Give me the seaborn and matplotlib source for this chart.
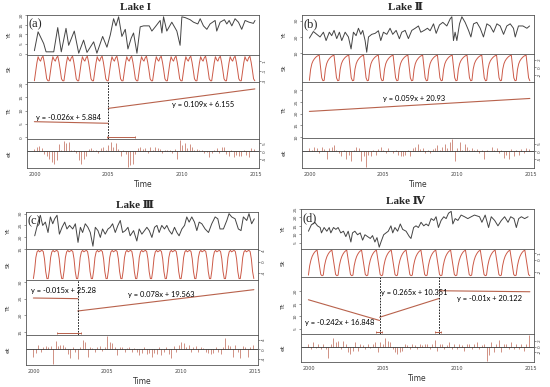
import numpy as np
import pandas as pd
import seaborn as sns
import matplotlib.pyplot as plt

sns.set_theme(style="white")
plt.rcParams['font.family'] = ['DejaVu Sans']

# ---------------- data ----------------
# Yt: observed series, x = years after 2000
yt_x_I = [0.00, 0.25, 0.63, 0.79, 1.31, 1.58, 1.82, 2.14, 2.32, 2.70, 3.00, 3.33, 3.56, 4.01, 4.23,
          4.62, 4.91, 5.14, 5.36, 5.52, 5.70, 5.92, 6.15, 6.33, 6.55, 6.71, 6.94, 7.16, 7.39, 7.77,
          7.95, 8.18, 8.51, 8.63, 8.74, 8.96, 9.30, 9.64, 9.86, 9.98, 10.20, 10.54, 10.77, 11.06,
          11.22, 11.44, 11.67, 11.89, 12.23, 12.34, 12.57, 12.86, 13.02, 13.18, 13.36, 13.58,
          13.81, 14.03, 14.26, 14.53, 14.82, 14.93]
yt_v_I = [1.5, 11.3, 5.2, 0.9, 0.9, 13.5, 0.9, 13.1, 4.3, 11.7, 0.2, 7.0, 0.6, 6.1, 0.2,
          8.9, 3.3, 9.8, 18.1, 14.4, 19.1, 8.9, 12.6, 2.4, 8.0, 10.7, 0.2, 13.9, 14.4, 14.4,
          11.7, 13.9, 17.2, 10.7, 19.1, 11.7, 16.3, 11.7, 4.3, 19.1, 18.7, 17.6, 16.3, 15.4,
          18.1, 14.4, 12.6, 15.4, 17.2, 11.7, 16.3, 17.6, 15.4, 17.2, 14.4, 18.1,
          16.3, 12.6, 17.2, 16.3, 15.7, 17.2]

yt_x_II = [0.00, 0.27, 0.50, 0.72, 0.95, 1.13, 1.35, 1.51, 1.67, 1.85, 2.03, 2.19, 2.42, 2.64, 2.82,
           2.98, 3.16, 3.32, 3.48, 3.61, 3.77, 3.88, 4.00, 4.22, 4.45, 4.67, 4.83, 5.01, 5.24, 5.46,
           5.64, 5.87, 6.09, 6.25, 6.48, 6.70, 6.93, 7.16, 7.38, 7.54, 7.77, 7.99, 8.17, 8.40, 8.58,
           8.80, 9.03, 9.30, 9.53, 9.64, 9.75, 9.86, 9.98, 10.16, 10.32, 10.54, 10.77, 10.93, 11.11,
           11.33, 11.56, 11.78, 12.01, 12.23, 12.46, 12.69, 12.91, 13.14, 13.36, 13.59, 13.81,
           13.93, 14.15, 14.45, 14.72, 14.90]
yt_v_II = [19.3, 23.3, 21.6, 20.0, 22.9, 17.8, 22.9, 20.8, 24.0, 19.0, 22.9, 17.8, 22.9, 20.0, 12.7,
           22.9, 20.8, 25.3, 21.6, 24.0, 17.8, 10.7, 20.0, 21.6, 22.2, 23.8, 17.8, 22.9, 21.6, 25.3,
           21.6, 24.0, 18.9, 22.9, 24.0, 19.0, 24.0, 25.3, 26.7, 22.9, 24.0, 25.3, 23.8, 28.0, 22.2,
           27.3, 28.9, 26.7, 31.1, 32.3, 17.8, 22.9, 17.8, 28.0, 32.3, 28.9, 24.0, 20.0, 28.0,
           28.9, 25.3, 20.0, 28.0, 26.7, 22.9, 28.0, 26.7, 21.6, 26.7, 28.0, 25.3,
           20.0, 26.7, 26.7, 25.3, 26.7]

yt_x_III = [0.09, 0.32, 0.47, 0.63, 0.81, 0.99, 1.15, 1.31, 1.44, 1.60, 1.76, 1.94, 2.12, 2.27, 2.45,
            2.66, 2.84, 3.02, 3.18, 3.33, 3.51, 3.69, 3.85, 4.03, 4.19, 4.37, 4.53, 4.68, 4.86, 5.05,
            5.20, 5.36, 5.54, 5.72, 5.88, 6.04, 6.22, 6.40, 6.55, 6.78, 7.00, 7.16, 7.34, 7.52, 7.68,
            7.84, 8.02, 8.20, 8.36, 8.51, 8.69, 8.87, 9.03, 9.19, 9.37, 9.55, 9.71, 9.86, 10.05, 10.23,
            10.38, 10.54, 10.72, 10.90, 11.06, 11.22, 11.40, 11.62, 11.85, 12.07, 12.30, 12.48, 12.63,
            12.86, 13.09, 13.24, 13.42, 13.65, 13.87, 14.05, 14.21, 14.44, 14.59, 14.77, 14.95]
yt_v_III = [20.6, 26.4, 29.3, 25.0, 26.4, 22.0, 28.6, 25.7, 27.8, 29.3, 21.3, 24.2, 26.4, 23.5, 25.0,
            23.5, 25.7, 17.8, 24.2, 22.0, 25.7, 24.2, 22.0, 16.2, 24.2, 22.8, 19.9, 23.5, 21.3, 23.5,
            24.2, 25.7, 22.0, 25.0, 27.1, 22.0, 22.8, 24.2, 20.6, 22.8, 18.4, 23.5, 21.3, 22.8, 24.2,
            22.8, 19.9, 24.2, 25.0, 22.0, 25.0, 23.5, 25.0, 22.8, 21.3, 24.2, 22.0, 20.6, 23.5, 25.0,
            28.6, 26.4, 28.6, 26.4, 22.8, 26.4, 25.7, 23.5, 22.0, 25.7, 28.6, 27.8, 23.5,
            23.5, 27.1, 30.0, 28.6, 27.8, 23.5, 22.8, 28.6, 27.1, 30.0, 25.7, 27.8]

yt_x_IV = [0.00, 0.20, 0.43, 0.61, 0.79, 0.88, 1.06, 1.24, 1.40, 1.51, 1.69, 1.85, 2.00, 2.18, 2.36,
           2.52, 2.68, 2.86, 2.97, 3.13, 3.31, 3.49, 3.65, 3.81, 3.99, 4.17, 4.32, 4.48, 4.62, 4.77,
           4.89, 5.07, 5.23, 5.38, 5.56, 5.68, 5.83, 6.01, 6.19, 6.35, 6.58, 6.80, 6.91, 7.09, 7.25,
           7.41, 7.59, 7.77, 7.93, 8.09, 8.27, 8.45, 8.60, 8.76, 8.94, 9.12, 9.28, 9.44, 9.62, 9.73,
           9.89, 10.07, 10.29, 10.52, 10.74, 10.97, 11.19, 11.53, 11.69, 11.91, 12.14, 12.32, 12.55,
           12.77, 13.00, 13.22, 13.45, 13.63, 13.85, 14.01, 14.17, 14.35, 14.57, 14.80]
yt_v_IV = [11.8, 15.6, 17.1, 15.0, 14.0, 10.8, 14.0, 11.8, 14.0, 10.8, 14.0, 12.9, 14.0, 10.8, 11.8,
           8.6, 11.8, 5.4, 10.8, 11.8, 9.7, 10.8, 6.5, 9.7, 8.6, 7.5, 9.2, 5.4, 8.0, 2.3,
           5.4, 9.7, 10.8, 11.8, 15.0, 10.8, 14.0, 11.8, 16.1, 12.9, 11.8, 8.6, 7.5, 14.0, 15.0,
           14.0, 17.1, 15.0, 16.1, 15.0, 19.3, 18.2, 20.4, 14.0, 18.2, 20.4, 19.3, 22.5, 23.6, 16.1,
           19.3, 18.2, 21.4, 20.4, 19.3, 20.4, 21.4, 20.4, 17.1, 21.4, 14.0, 20.4, 18.2,
           15.0, 18.2, 20.4, 17.1, 20.4, 19.3, 14.0, 19.3, 20.4, 19.3, 20.4]

# St: one year of the seasonal component (monthly), repeated every year
st_I = [-3.0, -1.2, 0.6, 1.9, 1.3, 1.0, 1.7, 2.0, 0.8, -0.8, -2.6, -3.0]
st_II = [-3.5, -0.5, 1.0, 1.8, 2.3, 2.7, 3.0, 3.2, 3.3, 0.2, -2.8, -3.6]
st_III = [-6.0, -3.0, 1.5, 3.5, 4.0, 3.5, 3.8, 4.0, 3.6, 1.0, -3.5, -6.0]
st_IV = [-2.5, -1.0, -0.1, 0.5, 0.9, 1.2, 1.4, 1.5, 0.2, -1.2, -2.4, -2.6]

# Tt: trend segments (start year, end year, start value, end value)
trend_I = [(0.0, 5.0, 5.8, 5.2), (5.0, 14.92, 10.8, 18.1)]
trend_II = [(0.0, 14.92, 20.9, 26.4)]
trend_III = [(0.0, 3.0, 25.2, 25.0), (3.0, 14.92, 21.3, 27.7)]
trend_IV = [(0.0, 4.8, 16.6, 8.3), (4.8, 8.8, 9.6, 17.1), (8.8, 14.92, 20.2, 19.8)]
breaks_I = [5.0]
breaks_II = []
breaks_III = [3.0]
breaks_IV = [4.8, 8.8]
ci_I = [(4.9, 6.8)]
ci_II = []
ci_III = [(1.6, 3.25)]
ci_IV = [(4.55, 4.95), (8.5, 8.95)]
eq_I = ["y = -0.026x + 5.884", "y = 0.109x + 6.155"]
eq_II = ["y = 0.059x + 20.93"]
eq_III = ["y = -0.015x + 25.28", "y = 0.078x + 19.563"]
eq_IV = ["y = -0.242x + 16.848", "y = 0.265x + 10.351", "y = -0.01x + 20.122"]

# et: remainder, every two months from 2000
et_I = [1.5, 2.5, 3.5, 2, -1.5, -3,
        -5, -7, -8, -6, 4.5, 1,
        6.5, 5, 6, 1, 0.5, -1,
        -6, -8, -5, -3, 1.5, 2,
        1, 0.5, -1, 2, 2.5, 1,
        4, 6, 3, 5, 1.5, -3,
        1, -2, -10, -9, -8, -2,
        2, 3, 1.5, 2, -1, 2.5,
        1, 3, 2, 1.5, -1, 1,
        0.5, 1, -1, 1.5, -5, 7,
        4, 5, 2, 4.5, 3, 1,
        1.5, 0.5, 1, -1, -0.5, -4,
        -1, 1, 2, -1, 3, 2.5,
        -2, -3, 1, -4, -2.5, -3,
        -3, 1, -2.5, -4, 2, 1.5]
et_II = [2, 1, 3, 2.5, -1, 3,
         1.5, -5, 2, 3, 4, 1,
         -1, -3, 1, -5, -2, -6,
         1, 3, 2.5, -6, -3, -10,
         -2, -3, 1, -2, 1.5, 3,
         1, -1, 2, 0.5, -1, 1,
         -2, -3, -3, -2.5, 1, -3,
         2, 3, 5, 1.5, 2, -1,
         1, -1, 1.5, 2, 4, 1,
         3, 5, 2, 6, 8, -6,
         2, 6, 1, 5, 3, 1,
         2, 1, 1.5, -1, 1, -5,
         1, 0.5, 3, 1, 2.5, -1,
         1, -4, -2, -5, 1.5, -3,
         1, -2, 1.5, -1, 2, 1.5]
et_III = [-3, -1.5, 2, -1, 1, 1.5,
          1, 1.5, -6, 3.5, 1.5, 2,
          2, 1, -2, -3.5, 1, -1,
          -4, 1, 4, 3, -3, 1,
          0.5, -1, 1, 1.5, -0.5, 1,
          5.5, 3, 2.5, 1, -2.5, 1,
          1, -1, 0.5, 1, -1, 0.5,
          -1, -2.5, -1.5, 1, -2, -1.5,
          -3, -1.5, -2, 1, -2.5, -1,
          1, -2, -3.5, 1.5, -1, 2,
          3, 2.5, 1, 2, -1, 1,
          1.5, -1, 1, 0.5, -1, -1.5,
          -2, -1.5, 1, -1, -2, 1,
          5, 2, 1.5, -3, 2, -1,
          -3.5, 1.5, 1, -3, 1, 2]
et_IV = [1, -1, 1.5, -0.5, 1, -1,
         1, -1, -4, 1, 3, 1.5,
         2, -1, 2, 1, -2, -2.5,
         -1.5, 1.5, -1.5, 1, 0.5, -1,
         1, -0.5, 1, 1.5, -2, 1.5,
         1, 3, 2, 1.5, -1, -2,
         -2.5, -2, -1.5, 1, 0.5, -1,
         1, 0.5, -1, 1, 0.5, 1,
         1, -1, 1, 2.5, -1.5, 1,
         1, -1, 0.5, 1.5, -1, 1,
         -1, 1, 0.5, -1.5, 1, 1,
         -1, 1, 1.5, -1, 0.5, 1,
         -5, -3, 1.5, -2, 1, 2.5,
         -2, 1, 1, -1, 1.5, -1,
         1, -1, 1, -1.5, 1, 4]

titles = ["Lake I", "Lake \u2161", "Lake \u2162", "Lake \u2163"]
tags = ["(a)", "(b)", "(c)", "(d)"]

# ---------------- layout ----------------
W, H = 550, 387
fig = plt.figure(figsize=(W / 100, H / 100), dpi=100)

panels = [
    dict(x=(27, 259), rows=[15, 55, 82, 139, 168], title_xy=(135, 8),
         yt=(yt_x_I, yt_v_I), st=st_I, trend=trend_I, brk=breaks_I, ci=ci_I, et=et_I, eq=eq_I,
         eq_pos=[(0.1, 7.2), (9.3, 12.1)], tt_lim=(-0.7, 20.7),
         ticks=([0, 5, 10, 15, 20], [1, -1, -3], [0, 5, 10, 15, 20], [5, 0, -5])),
    dict(x=(302, 534), rows=[15, 54, 82, 138, 168], title_xy=(405, 8),
         yt=(yt_x_II, yt_v_II), st=st_II, trend=trend_II, brk=breaks_II, ci=ci_II, et=et_II, eq=eq_II,
         eq_pos=[(5.0, 26.4)], tt_lim=(9.6, 33.4),
         ticks=([10, 20, 30], [2, 0, -2], [10, 15, 20, 25, 30], [5, 0, -5])),
    dict(x=(26, 258), rows=[212, 249, 280, 335, 365], title_xy=(135, 205),
         yt=(yt_x_III, yt_v_III), st=st_III, trend=trend_III, brk=breaks_III, ci=ci_III, et=et_III, eq=eq_III,
         eq_pos=[(-0.15, 27.3), (6.4, 26.1)], tt_lim=(14.1, 30.6),
         ticks=([15, 20, 25, 30], [4, 0, -4], [15, 20, 25, 30], [4, 0, -4])),
    dict(x=(301, 534), rows=[209, 249, 277, 334, 362], title_xy=(405, 201),
         yt=(yt_x_IV, yt_v_IV), st=st_IV, trend=trend_IV, brk=breaks_IV, ci=ci_IV, et=et_IV, eq=eq_IV,
         eq_pos=[(-0.2, 7.3), (4.9, 19.7), (10.0, 16.9)], tt_lim=(2.9, 25.7),
         ticks=([5, 10, 15, 20, 25], [1, 0, -2], [5, 10, 15, 20], [2, 0, -2])),
]

col_y = '#444444'
col_s = '#cc5a48'
col_t = '#b8624c'
col_e = '#c98070'
serif = ['Liberation Serif', 'DejaVu Serif']

for i, p in enumerate(panels):
    x0, x1 = p['x']
    rows = p['rows']
    axes = []
    for r in range(4):
        top, bot = rows[r], rows[r + 1]
        ax = fig.add_axes([x0 / W, 1 - bot / H, (x1 - x0) / W, (bot - top) / H])
        ax.set_xlim(1999.5, 2015.2)
        for sp in ax.spines.values():
            sp.set_color('#555555')
            sp.set_linewidth(0.6)
        axes.append(ax)
    ax_y, ax_s, ax_t, ax_e = axes

    # Yt
    yx = [2000 + v for v in p['yt'][0]]
    sns.lineplot(x=yx, y=p['yt'][1], ax=ax_y, color=col_y, lw=0.7, estimator=None, sort=False)

    # St
    t_m = 2000 + np.arange(180) / 12
    sns.lineplot(x=t_m, y=np.tile(p['st'], 15), ax=ax_s, color=col_s, lw=0.7, estimator=None, sort=False)

    # Tt
    for (a, b, va, vb) in p['trend']:
        seg = pd.DataFrame({'t': [2000 + a, 2000 + b], 'v': [va, vb]})
        sns.lineplot(data=seg, x='t', y='v', ax=ax_t, color=col_t, lw=0.8, estimator=None)
    ax_t.set_ylim(*p['tt_lim'])
    for b in p['brk']:
        ax_t.axvline(2000 + b, color='black', ls=(0, (2, 1.5)), lw=0.6)
    lo, hi = p['tt_lim']
    for (a, b) in p['ci']:
        yc = lo + 0.03 * (hi - lo)
        ax_t.plot([2000 + a, 2000 + b], [yc, yc], color=col_t, lw=0.7, marker='|', ms=2, mew=0.6)
    for txt, (ex, ey) in zip(p['eq'], p['eq_pos']):
        ax_t.text(2000 + ex, ey, txt, fontsize=5.4, family=['Lato', 'DejaVu Sans'],
                  ha='left', va='center', color='black')

    # et
    t_e = 2000 + np.arange(90) / 6
    ax_e.vlines(t_e, 0, p['et'], color=col_e, lw=0.6)
    ax_e.axhline(0, color='#333333', lw=0.6)

    for ax in (ax_y, ax_s, ax_e):
        ax.margins(y=0.05)
        ax.set_ylim(ax.get_ylim())

    labels = ['Yt', 'St', 'Tt', 'et']
    for k, ax in enumerate(axes):
        ax.set_yticks(p['ticks'][k])
        ax.set_yticklabels([str(v) for v in p['ticks'][k]], rotation=90, va='center')
        if k in (1, 3):
            ax.yaxis.tick_right()
        else:
            ax.yaxis.tick_left()
        ax.tick_params(axis='y', labelsize=3.2, length=1.5, width=0.4, pad=1,
                       colors='#444444', direction='out')
        ax.set_ylabel(labels[k], fontsize=4.5, color='#333333')
        ax.yaxis.set_label_position('left')
        ax.yaxis.set_label_coords(-15 / (x1 - x0), 0.5)
        if k < 3:
            ax.set_xticks([])
        ax.set_xlabel('')

    ax_e.set_xticks([2000, 2005, 2010, 2015])
    ax_e.set_xticklabels(['2000', '2005', '2010', '2015'])
    ax_e.tick_params(axis='x', labelsize=3.5, length=1.5, width=0.4, pad=1.5, colors='#444444')
    ax_e.set_xlabel('Time', fontsize=5.5, color='#333333', labelpad=2)

    ax_y.text(0.006, 0.92, tags[i], transform=ax_y.transAxes, fontsize=9,
              family=serif, va='top', ha='left')
    tx, ty = p['title_xy']
    fig.text(tx / W, 1 - ty / H, titles[i], fontsize=8, fontweight='bold',
             family=serif, ha='center', va='center')

fig.savefig('out.png', dpi=100)
